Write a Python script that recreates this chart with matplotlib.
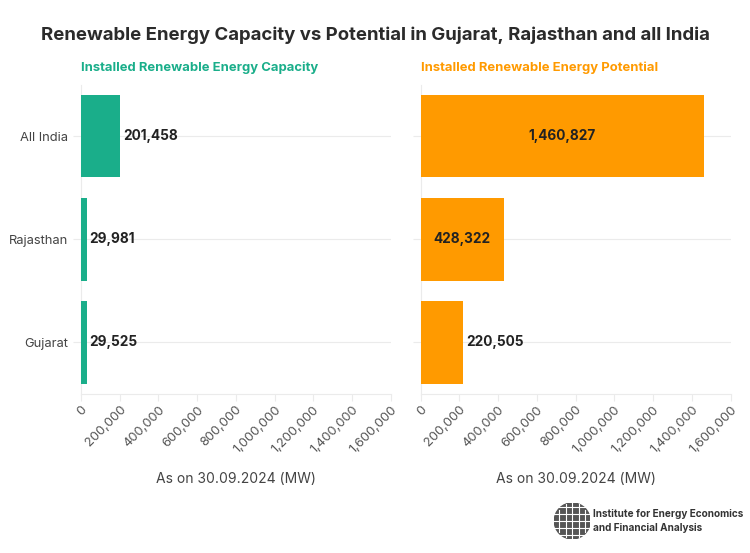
import numpy as np
import matplotlib.pyplot as plt
from matplotlib.patches import Circle

regions = ["Gujarat", "Rajasthan", "All India"]
capacity = [29525, 29981, 201458]
potential = [220505, 428322, 1460827]
xticks = [0, 200000, 400000, 600000, 800000, 1000000, 1200000, 1400000, 1600000]

teal = "#1aae8a"
orange = "#ff9a00"
grid_c = "#ebebeb"

plt.rcParams['font.family'] = ['Inter', 'DejaVu Sans']

fig = plt.figure(figsize=(7.5, 5.53), dpi=100)
fig.patch.set_facecolor("white")

fig.text(0.5, 0.937, "Renewable Energy Capacity vs Potential in Gujarat, Rajasthan and all India",
         ha="center", va="center", fontsize=13.4, fontweight="bold", color="#2b2b2b")
fig.text(0.108, 0.877, "Installed Renewable Energy Capacity", ha="left", va="center",
         fontsize=9.4, fontweight="bold", color=teal)
fig.text(0.561, 0.877, "Installed Renewable Energy Potential", ha="left", va="center",
         fontsize=9.4, fontweight="bold", color=orange)

def panel(rect, vals, color, show_y):
    ax = fig.add_axes(rect)
    y = np.arange(len(regions))
    bars = ax.barh(y, vals, height=0.8, color=color, zorder=3)
    ax.set_xlim(0, 1600000)
    ax.set_ylim(-0.5, len(regions) - 0.5)
    ax.set_xticks(xticks)
    ax.set_xticklabels([f"{v:,}" for v in xticks], rotation=45, ha="right",
                       rotation_mode="anchor", fontsize=9.3, color="#555555")
    ax.set_yticks(y)
    if show_y:
        ax.set_yticklabels(regions, fontsize=9.3, color="#444444")
    else:
        ax.set_yticklabels([])
    ax.tick_params(axis="y", length=6, color=grid_c, pad=3)
    ax.tick_params(axis="x", length=5, color=grid_c, pad=2)
    ax.grid(axis="y", color=grid_c, linewidth=0.8, zorder=0)
    for s in ["top", "right"]:
        ax.spines[s].set_visible(False)
    ax.spines["left"].set_color(grid_c)
    ax.spines["bottom"].set_color(grid_c)
    ax.set_xlabel("As on 30.09.2024 (MW)", fontsize=10, color="#444444", labelpad=12)
    for b, v in zip(bars, vals):
        cy = b.get_y() + b.get_height() / 2
        if v > 300000:
            ax.text(v / 2, cy, f"{v:,}", ha="center", va="center", fontsize=9.8,
                    fontweight="bold", color="#222222", zorder=4)
        else:
            ax.text(v + 15000, cy, f"{v:,}", ha="left", va="center", fontsize=9.8,
                    fontweight="bold", color="#222222", zorder=4)
    return ax

panel([0.108, 0.2875, 0.413, 0.5595], capacity, teal, True)
panel([0.561, 0.2875, 0.413, 0.5595], potential, orange, False)

# logo
lax = fig.add_axes([0.739, 0.025, 0.048, 0.066])
lax.set_xlim(-1, 1)
lax.set_ylim(-1, 1)
lax.set_aspect("equal")
lax.axis("off")
lax.add_patch(Circle((0, 0), 1, color="#555555"))
for t in np.linspace(-0.8, 0.8, 5):
    lax.plot([-1, 1], [t, t], color="white", lw=0.8)
    w = np.sqrt(1 - t ** 2)
    lax.plot([t * 0.9, t * 0.9], [-w, w], color="white", lw=0.8)
fig.text(0.791, 0.07, "Institute for Energy Economics", fontsize=7.2, fontweight="bold",
         color="#333333", va="center")
fig.text(0.791, 0.046, "and Financial Analysis", fontsize=7.2, fontweight="bold",
         color="#333333", va="center")

fig.savefig("out.png", dpi=100, facecolor="white")
